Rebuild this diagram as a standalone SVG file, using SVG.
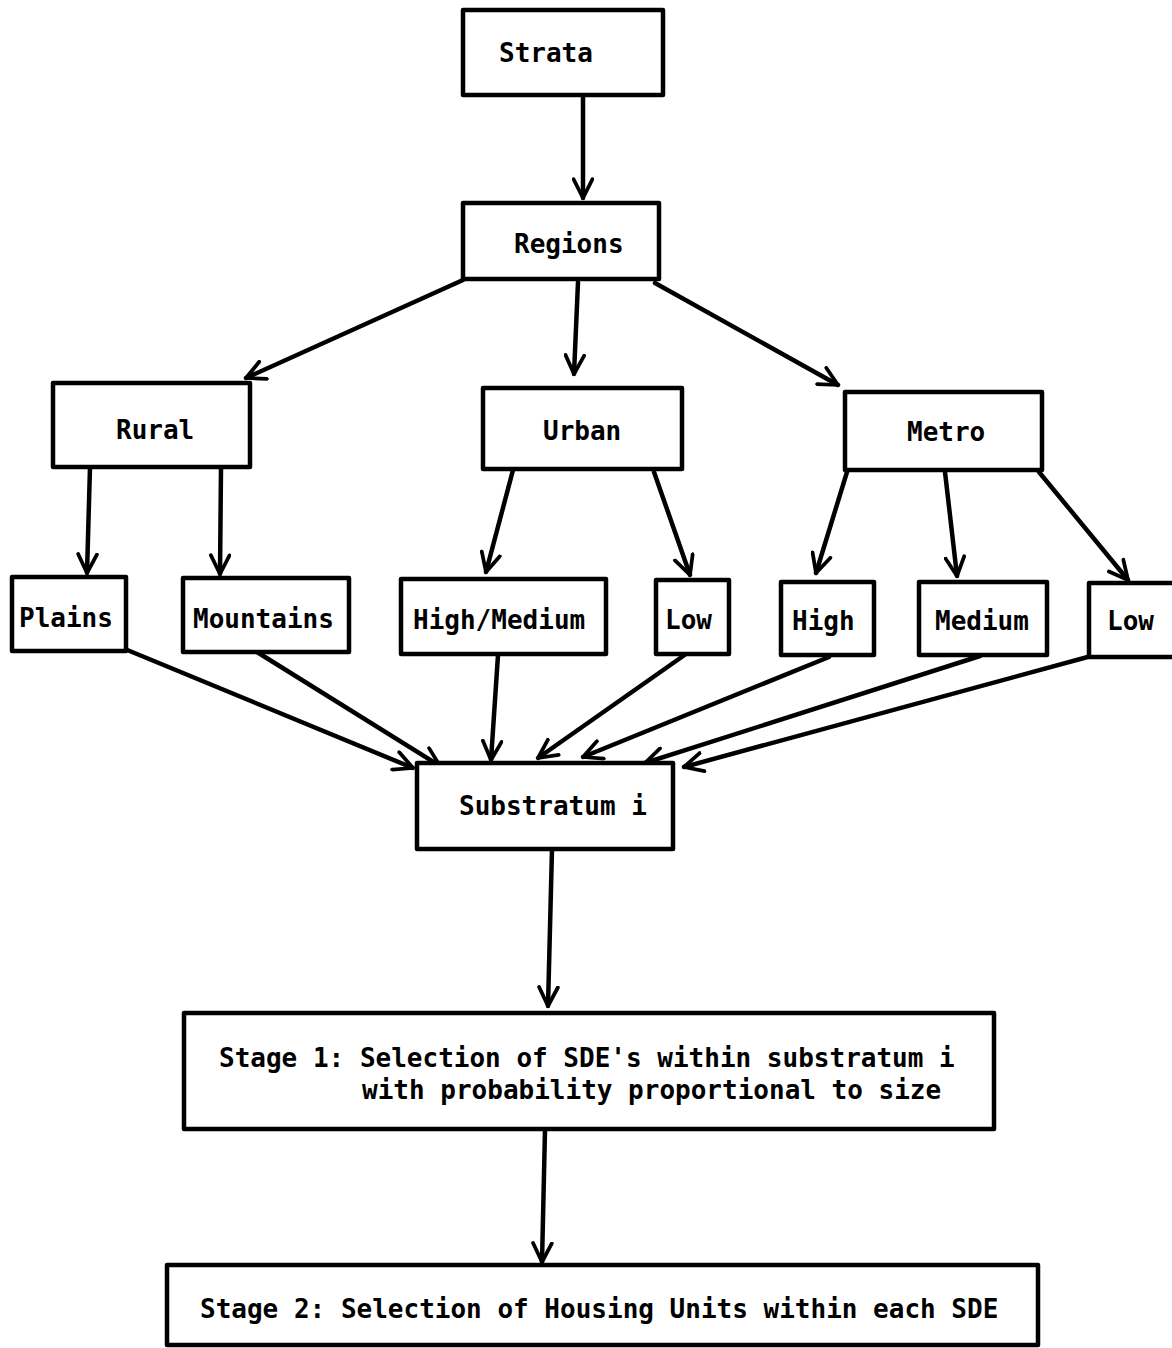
<svg xmlns="http://www.w3.org/2000/svg" width="1172" height="1348" viewBox="0 0 1172 1348">
<style>
.box{fill:#fff;stroke:#000;stroke-width:4.5;stroke-linejoin:round}
.t{font-family:"DejaVu Sans Mono","Liberation Mono",monospace;font-weight:bold;font-size:26px;fill:#000}
.c{stroke:#000;stroke-width:4.5;fill:none;stroke-linecap:round;marker-end:url(#ah)}
</style>
<defs>
<marker id="ah" viewBox="0 0 12 12" refX="11" refY="6" markerWidth="5" markerHeight="5" orient="auto" markerUnits="strokeWidth">
<path d="M1,1 L11,6 L1,11" fill="none" stroke="#000" stroke-width="2" stroke-linecap="round" stroke-linejoin="round"/>
</marker>
</defs>
<rect width="1172" height="1348" fill="#fff"/>
<g id="connectors">
<line class="c" x1="583" y1="95" x2="583" y2="198"/>
<line class="c" x1="463" y1="280" x2="246" y2="378"/>
<line class="c" x1="578" y1="282" x2="574" y2="374"/>
<line class="c" x1="655" y1="283" x2="838" y2="385"/>
<line class="c" x1="90" y1="467" x2="87" y2="573"/>
<line class="c" x1="221" y1="468" x2="220" y2="574"/>
<line class="c" x1="513" y1="470" x2="486" y2="572"/>
<line class="c" x1="654" y1="472" x2="690" y2="575"/>
<line class="c" x1="847" y1="472" x2="816" y2="573"/>
<line class="c" x1="945" y1="472" x2="957" y2="576"/>
<line class="c" x1="1039" y1="472" x2="1128" y2="580"/>
<line class="c" x1="120" y1="647" x2="413" y2="768"/>
<line class="c" x1="257" y1="652" x2="440" y2="766"/>
<line class="c" x1="498" y1="655" x2="491" y2="760"/>
<line class="c" x1="686" y1="654" x2="538" y2="758"/>
<line class="c" x1="829" y1="657" x2="583" y2="757"/>
<line class="c" x1="980" y1="656" x2="645" y2="763"/>
<line class="c" x1="1095" y1="655" x2="684" y2="767"/>
<line class="c" x1="552" y1="849" x2="548" y2="1006"/>
<line class="c" x1="545" y1="1130" x2="542" y2="1262"/>
</g>
<g id="strata"><rect class="box" x="463" y="10" width="200" height="85"/><text class="t" x="499" y="62">Strata</text></g>
<g id="regions"><rect class="box" x="463" y="203" width="196" height="76"/><text class="t" x="514" y="253">Regions</text></g>
<g id="rural"><rect class="box" x="53" y="383" width="197" height="84"/><text class="t" x="116" y="439">Rural</text></g>
<g id="urban"><rect class="box" x="483" y="388" width="199" height="81"/><text class="t" x="543" y="440">Urban</text></g>
<g id="metro"><rect class="box" x="845" y="392" width="197" height="78"/><text class="t" x="907" y="441">Metro</text></g>
<g id="plains"><rect class="box" x="12" y="577" width="114" height="74"/><text class="t" x="19" y="627">Plains</text></g>
<g id="mountains"><rect class="box" x="183" y="578" width="166" height="74"/><text class="t" x="193" y="628">Mountains</text></g>
<g id="highmedium"><rect class="box" x="401" y="579" width="205" height="75"/><text class="t" x="413" y="629">High/Medium</text></g>
<g id="urbanlow"><rect class="box" x="656" y="580" width="73" height="74"/><text class="t" x="665" y="629">Low</text></g>
<g id="metrohigh"><rect class="box" x="781" y="582" width="93" height="73"/><text class="t" x="792" y="630">High</text></g>
<g id="metromedium"><rect class="box" x="919" y="582" width="128" height="73"/><text class="t" x="935" y="630">Medium</text></g>
<g id="metrolow"><rect class="box" x="1089" y="583" width="90" height="74"/><text class="t" x="1107" y="630">Low</text></g>
<g id="substratum"><rect class="box" x="417" y="763" width="256" height="86"/><text class="t" x="459" y="815">Substratum i</text></g>
<g id="stage1"><rect class="box" x="184" y="1013" width="810" height="116"/><text class="t" x="219" y="1067">Stage 1: Selection of SDE's within substratum i</text><text class="t" x="362" y="1099">with probability proportional to size</text></g>
<g id="stage2"><rect class="box" x="167" y="1265" width="871" height="80"/><text class="t" x="200" y="1318">Stage 2: Selection of Housing Units within each SDE</text></g>
</svg>
